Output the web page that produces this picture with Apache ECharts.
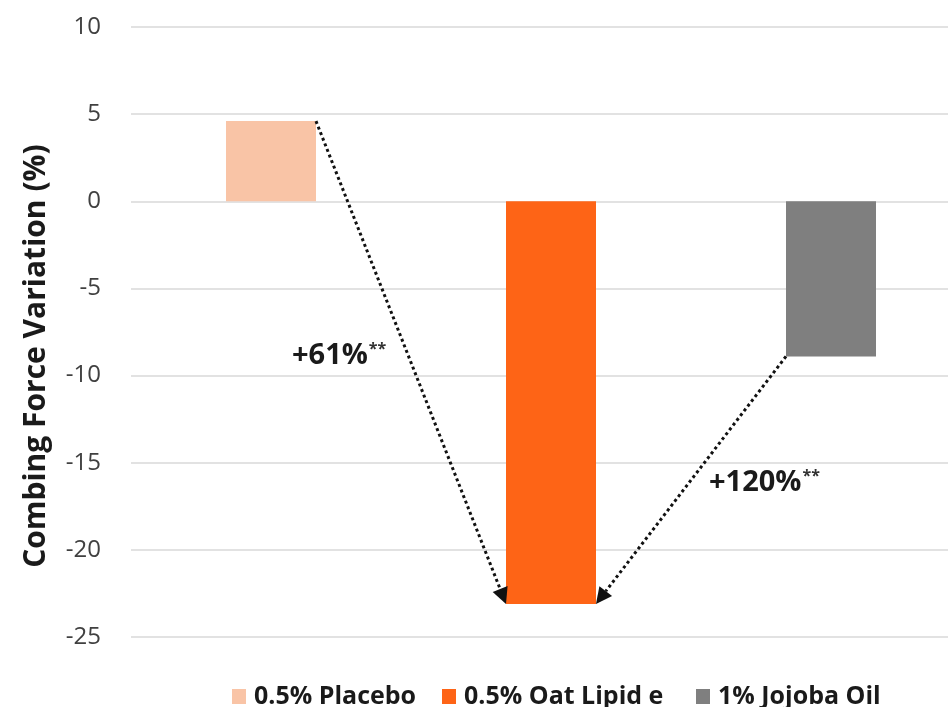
<!DOCTYPE html>
<html><head><meta charset="utf-8">
<script src="https://cdn.jsdelivr.net/npm/echarts@6/dist/echarts.min.js"></script>
<style>html,body{margin:0;padding:0;background:#fff;overflow:hidden;width:948px;height:707px}#c{width:972px;height:707px}</style>
</head><body><div id="c"></div>
<script>
const categories = ['0.5% Placebo', '0.5% Oat Lipid e', '1% Jojoba Oil'];
const values = [4.6, -23.1, -8.9];
const colors = ['#f9c4a6', '#fe6416', '#7f7f7f'];
const yTicks = { min: -25, max: 10, interval: 5 };
const annotations = [
  { from: 0, fromSide: 1, to: 1, toSide: -1, text: '+61%', pos: [292, 356] },
  { from: 2, fromSide: -1, to: 1, toSide: 1, text: '+120%', pos: [709, 483] }
];
const legendLeft = [232, 442, 696];
const BAR_W = 90;

const chart = echarts.init(document.getElementById('c'));
const series = categories.map((name, i) => ({
  name: name,
  type: 'bar',
  stack: 'all',
  barWidth: BAR_W,
  itemStyle: { color: colors[i] },
  data: categories.map((c, j) => j === i ? values[i] : '-')
}));

chart.setOption({
  animation: false,
  textStyle: { fontFamily: 'Open Sans' },
  grid: { left: 131, top: 27, right: 1, height: 610, containLabel: false },
  legend: categories.map((c, i) => ({
    top: 684,
    left: legendLeft[i],
    padding: 0,
    itemWidth: 14, itemHeight: 15,
    icon: 'rect',
    textStyle: { fontFamily: 'Open Sans', fontWeight: 'bold', fontSize: 25, color: '#1a1a1a', padding: [0, 0, 0, 3] },
    data: [c]
  })),
  xAxis: {
    type: 'category', data: categories,
    axisLine: { show: false }, axisTick: { show: false }, axisLabel: { show: false }
  },
  yAxis: {
    type: 'value', min: yTicks.min, max: yTicks.max, interval: yTicks.interval,
    name: 'Combing Force Variation (%)',
    nameLocation: 'middle', nameGap: 80,
    nameTextStyle: { fontFamily: 'Open Sans', fontWeight: 'bold', fontSize: 30, color: '#1a1a1a', padding: [0, 48, 0, 0] },
    axisLabel: { fontFamily: 'Open Sans', fontSize: 24, color: '#404040', margin: 30 },
    splitLine: { lineStyle: { color: '#d9d9d9', width: 1.5 } }
  },
  series: series
});

function barCorner(idx, side) {
  const p = chart.convertToPixel({ seriesIndex: 0 }, [idx, values[idx]]);
  return [p[0] + side * BAR_W / 2, p[1]];
}
const graphics = [];
annotations.forEach(a => {
  const s = barCorner(a.from, a.fromSide);
  const e = barCorner(a.to, a.toSide);
  const dx = e[0] - s[0], dy = e[1] - s[1];
  const len = Math.hypot(dx, dy), ux = dx / len, uy = dy / len;
  const headL = 16, headW = 8;
  const bx = e[0] - ux * headL, by = e[1] - uy * headL;
  graphics.push({
    type: 'line', shape: { x1: s[0], y1: s[1], x2: bx, y2: by },
    style: { stroke: '#111', lineWidth: 3, lineDash: [3, 3] }, z: 10
  });
  graphics.push({
    type: 'polygon',
    shape: { points: [[e[0], e[1]], [bx - uy * headW, by + ux * headW], [bx + uy * headW, by - ux * headW]] },
    style: { fill: '#111' }, z: 10
  });
  graphics.push({
    type: 'text', x: a.pos[0], y: a.pos[1],
    style: {
      text: '{m|' + a.text + '}{s|**}',
      rich: {
        m: { fontFamily: 'Open Sans', fontWeight: 'bold', fontSize: 29, fill: '#1a1a1a', verticalAlign: 'bottom' },
        s: { fontFamily: 'Open Sans', fontWeight: 'bold', fontSize: 16, fill: '#333', verticalAlign: 'top', padding: [0, 0, 12, 1] }
      },
      align: 'left', verticalAlign: 'middle'
    }, z: 11
  });
});
chart.setOption({ graphic: graphics });
</script></body></html>
